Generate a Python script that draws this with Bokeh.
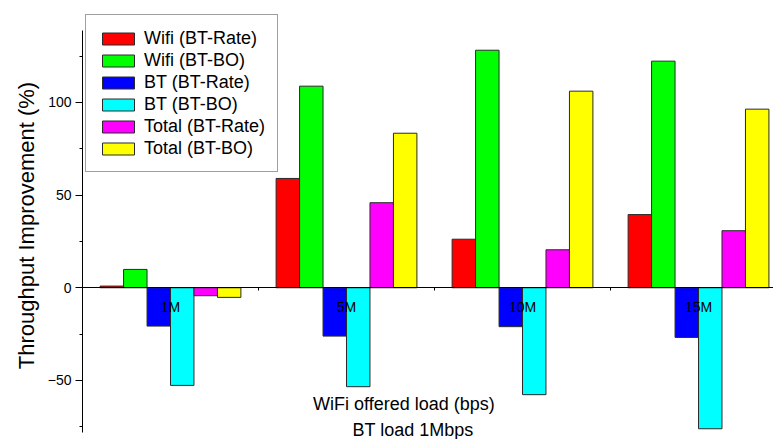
from bokeh.plotting import figure
from bokeh.models import (Range1d, LinearAxis, SingleIntervalTicker, FixedTicker,
                          ColumnDataSource, Label)
from bokeh.transform import dodge
from bokeh.core.properties import value
from bokeh.embed import file_html
from bokeh.resources import INLINE

# ---- data ----
categories = ["1M", "5M", "10M", "15M"]
wifi_rate = [0.9, 59.0, 26.2, 39.5]
wifi_bo = [9.9, 108.8, 128.2, 122.3]
bt_rate = [-20.7, -26.1, -21.0, -26.8]
bt_bo = [-52.7, -53.4, -57.7, -76.1]
total_rate = [-4.3, 45.9, 20.5, 30.8]
total_bo = [-5.2, 83.4, 106.1, 96.4]
series_names = ["Wifi (BT-Rate)", "Wifi (BT-BO)", "BT (BT-Rate)", "BT (BT-BO)",
                "Total (BT-Rate)", "Total (BT-BO)"]
series_keys = ["wifi_rate", "wifi_bo", "bt_rate", "bt_bo", "total_rate", "total_bo"]
colors = ["#FF0000", "#00FF00", "#0000FF", "#00FFFF", "#FF00FF", "#FFFF00"]
group_boundaries = [0.5, 1.5, 2.5]
x_title_1 = "WiFi offered load (bps)"
x_title_2 = "BT load 1Mbps"
y_title = "Throughput Improvement (%)"

FONT = "Liberation Sans"

idx = list(range(len(categories)))
source = ColumnDataSource(dict(
    x=idx, cat=categories, zero=[0] * len(categories),
    wifi_rate=wifi_rate, wifi_bo=wifi_bo, bt_rate=bt_rate, bt_bo=bt_bo,
    total_rate=total_rate, total_bo=total_bo))

p = figure(width=773, height=439, output_backend="svg", toolbar_location=None,
           x_range=Range1d(-0.5, 3.426), y_range=Range1d(-81.9, 149.1),
           x_axis_location=None, y_axis_location="left",
           min_border_left=82, min_border_top=11, min_border_bottom=0,
           min_border_right=0)
p.outline_line_color = None
p.grid.visible = False

bw = 0.8 / 6
for i, (key, name, col) in enumerate(zip(series_keys, series_names, colors)):
    off = (i - 2.5) * bw
    p.vbar(x=dodge("x", off), top=key, bottom=0, width=bw, source=source,
           fill_color=col, line_color="#2a2a2a", line_width=1,
           legend_label=name)

# zero line axis with ticks at group boundaries
xa = LinearAxis(fixed_location=0, ticker=FixedTicker(ticks=group_boundaries),
                major_tick_in=0, major_tick_out=3, minor_tick_out=0,
                major_label_overrides={b: "" for b in group_boundaries},
                major_label_text_font_size="1px", major_label_standoff=0,
                axis_line_color="black", major_tick_line_color="black")
p.add_layout(xa, "below")

# y axis
ya = p.yaxis[0]
ya.bounds = (-77.9, 138.9)
ya.ticker = SingleIntervalTicker(interval=50, num_minor_ticks=2)
ya.major_tick_in = 0
ya.major_tick_out = 7
ya.minor_tick_in = 0
ya.minor_tick_out = 3
ya.axis_line_color = "black"
ya.major_label_text_font = FONT
ya.major_label_text_font_size = "14px"
ya.major_label_text_color = "black"
ya.major_label_standoff = 4
ya.axis_label = y_title
ya.axis_label_text_font = FONT
ya.axis_label_text_font_size = "22px"
ya.axis_label_text_font_style = "normal"
ya.axis_label_text_color = "black"
ya.axis_label_standoff = 6

# group labels
p.text(x="x", y="zero", text="cat", source=source, text_align="center",
       text_baseline="middle", y_offset=19, text_font=value(FONT),
       text_font_size="14px", text_color="black")

# x-axis titles (inside the plot area)
p.add_layout(Label(x=1.326, y=-63.0, text=x_title_1, text_align="center",
                   text_baseline="middle", text_font=FONT,
                   text_font_size="18px", text_color="black"))
p.add_layout(Label(x=1.378, y=-77.0, text=x_title_2, text_align="center",
                   text_baseline="middle", text_font=FONT,
                   text_font_size="18px", text_color="black"))

lg = p.legend[0]
lg.location = (3, 267)
lg.glyph_width = 40
lg.glyph_height = 15
lg.label_height = 22
lg.spacing = 0
lg.padding = 12
lg.margin = 0
lg.label_standoff = 6
lg.label_text_font = FONT
lg.label_text_font_size = "18px"
lg.label_text_color = "black"
lg.border_line_color = "#404040"
lg.border_line_width = 1
lg.background_fill_alpha = 1

open("out.html", "w").write(file_html(p, INLINE))
